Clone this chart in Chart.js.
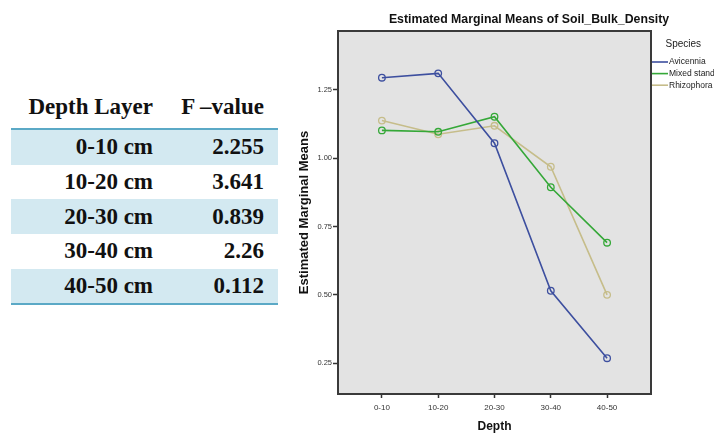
<!DOCTYPE html>
<html>
<head>
<meta charset="utf-8">
<script src="https://cdn.jsdelivr.net/npm/chart.js@4/dist/chart.umd.min.js"></script>
<style>
  html, body { margin: 0; padding: 0; background: #fff; width: 714px; height: 434px; overflow: hidden; position: relative; }
  #ftable {
    position: absolute; left: 11px; top: 86px; width: 267px;
    border-collapse: collapse;
    font-family: "Liberation Serif", "Times New Roman", serif;
    font-weight: bold; font-size: 23px; color: #111;
  }
  #ftable th, #ftable td { padding: 0; height: 34.7px; text-align: right; white-space: nowrap; }
  #ftable th { height: 42px; border-bottom: 2px solid #5ba9c6; }
  #ftable .c1 { width: 142px; }
  #ftable .c2 { padding-right: 14px; }
  #ftable tr.shade td { background: #d3e9f1; }
  #ftable tr:last-child td { border-bottom: 2px solid #5ba9c6; }
  #wrap { position: absolute; left: 290px; top: 0; width: 440px; height: 434px; }
</style>
</head>
<body>
<table id="ftable">
  <thead><tr><th class="c1">Depth Layer</th><th class="c2">F –value</th></tr></thead>
  <tbody id="fbody"></tbody>
</table>
<div id="wrap"><canvas id="emm" width="440" height="434"></canvas></div>
<script>
// table values
const layerNames = ["0-10 cm", "10-20 cm", "20-30 cm", "30-40 cm", "40-50 cm"];
const fValues = ["2.255", "3.641", "0.839", "2.26", "0.112"];

// chart values
const depthLabels = ["0-10", "10-20", "20-30", "30-40", "40-50"];
const avicennia = [1.295, 1.311, 1.055, 0.515, 0.268];
const mixedStand = [1.102, 1.097, 1.152, 0.894, 0.691];
const rhizophora = [1.138, 1.088, 1.119, 0.969, 0.500];
const yTicks = [0.25, 0.50, 0.75, 1.00, 1.25];

const fbody = document.getElementById("fbody");
layerNames.forEach((name, i) => {
  const tr = document.createElement("tr");
  if (i % 2 === 0) tr.classList.add("shade");
  tr.innerHTML = `<td class="c1">${name}</td><td class="c2">${fValues[i]}</td>`;
  fbody.appendChild(tr);
});

const toPoints = arr => arr.map((v, i) => ({ x: i, y: v }));

function series(label, values, color) {
  return {
    label: label,
    data: toPoints(values),
    borderColor: color,
    backgroundColor: "rgba(0,0,0,0)",
    borderWidth: 1.6,
    pointRadius: 3.3,
    pointBorderWidth: 1.3,
    pointBorderColor: color,
    pointBackgroundColor: "rgba(0,0,0,0)",
    tension: 0
  };
}

// grey plot box + frame
const plotBox = {
  id: "plotBox",
  beforeDatasetsDraw(chart) {
    const { ctx, chartArea: a } = chart;
    ctx.save();
    ctx.fillStyle = "#e3e3e3";
    ctx.fillRect(a.left, a.top, a.right - a.left, a.bottom - a.top);
    ctx.strokeStyle = "#3a3a3a";
    ctx.lineWidth = 2;
    ctx.strokeRect(a.left, a.top, a.right - a.left, a.bottom - a.top);
    ctx.restore();
  }
};

// title and SPSS style legend
const decor = {
  id: "decor",
  afterDraw(chart) {
    const { ctx, chartArea: a } = chart;
    ctx.save();
    ctx.fillStyle = "#111";
    ctx.font = "bold 12.3px 'Liberation Sans', Arial, sans-serif";
    ctx.textAlign = "center";
    ctx.textBaseline = "middle";
    ctx.fillText("Estimated Marginal Means of Soil_Bulk_Density", 239, 20);

    ctx.textAlign = "left";
    ctx.font = "10px 'Liberation Sans', Arial, sans-serif";
    ctx.fillStyle = "#222";
    ctx.fillText("Species", 375.5, 44);
    ctx.font = "8.5px 'Liberation Sans', Arial, sans-serif";
    chart.data.datasets.forEach((ds, i) => {
      const y = 62 + i * 11.6;
      ctx.strokeStyle = ds.borderColor;
      ctx.lineWidth = 1.6;
      ctx.beginPath();
      ctx.moveTo(a.right + 1, y);
      ctx.lineTo(a.right + 17, y);
      ctx.stroke();
      ctx.fillStyle = "#222";
      ctx.fillText(ds.label, a.right + 18, y);
    });
    ctx.restore();
  }
};

new Chart(document.getElementById("emm"), {
  type: "line",
  data: {
    datasets: [
      series("Avicennia", avicennia, "#3d4f9f"),
      series("Mixed stand", mixedStand, "#35a838"),
      series("Rhizophora", rhizophora, "#c6bd8a")
    ]
  },
  options: {
    responsive: false,
    animation: false,
    layout: { padding: { top: 31, right: 79, left: 0, bottom: 0 } },
    plugins: { legend: { display: false }, tooltip: { enabled: false } },
    scales: {
      x: {
        type: "linear",
        min: -0.78,
        max: 4.78,
        afterBuildTicks: s => { s.ticks = depthLabels.map((_, i) => ({ value: i })); },
        afterFit: s => { s.height = 40; },
        grid: { display: true, drawTicks: true, tickLength: 4, tickColor: "#333", tickWidth: 1.5, drawOnChartArea: false },
        border: { display: false },
        ticks: {
          padding: 5,
          color: "#333",
          font: { size: 8, family: "'Liberation Sans', Arial, sans-serif" },
          callback: v => depthLabels[v]
        },
        title: {
          display: true,
          text: "Depth",
          color: "#111",
          padding: { top: 0, bottom: 0 },
          font: { size: 12, weight: "bold", family: "'Liberation Sans', Arial, sans-serif" }
        }
      },
      y: {
        min: 0.137,
        max: 1.466,
        afterBuildTicks: s => { s.ticks = yTicks.map(v => ({ value: v })); },
        afterFit: s => { s.width = 48; },
        grid: { display: true, drawTicks: true, tickLength: 5, tickColor: "#333", tickWidth: 1.5, drawOnChartArea: false },
        border: { display: false },
        ticks: {
          padding: 1,
          color: "#333",
          font: { size: 7.5, family: "'Liberation Sans', Arial, sans-serif" },
          callback: v => v.toFixed(2)
        },
        title: {
          display: true,
          text: "Estimated Marginal Means",
          color: "#111",
          padding: { top: 7, bottom: 0 },
          font: { size: 13, weight: "bold", family: "'Liberation Sans', Arial, sans-serif" }
        }
      }
    }
  },
  plugins: [plotBox, decor]
});
</script>
</body>
</html>
